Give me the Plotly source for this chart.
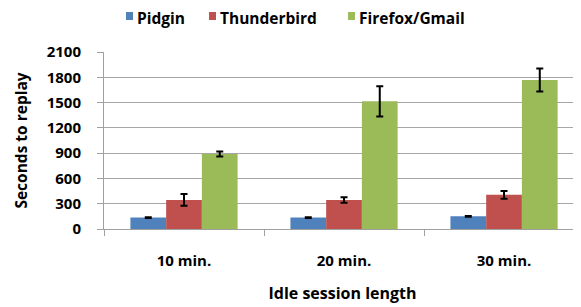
import plotly.graph_objects as go

categories = ["10 min.", "20 min.", "30 min."]
pidgin = [135, 135, 150]
pidgin_err = [4, 4, 4]
thunderbird = [345, 345, 405]
thunderbird_err = [70, 33, 45]
firefox = [890, 1515, 1768]
firefox_err = [30, 180, 136]
y_ticks = [0, 300, 600, 900, 1200, 1500, 1800, 2100]
series_names = ["Pidgin", "Thunderbird", "Firefox/Gmail"]
colors = ["#4F81BD", "#C0504D", "#9BBB59"]

FONT = "Open Sans"
W, H = 573, 299
ML, MT, MB = 96, 44, 78
PW = W - ML
PH = H - MT - MB

fig = go.Figure()
for name, vals, errs, color in zip(series_names, [pidgin, thunderbird, firefox],
                                   [pidgin_err, thunderbird_err, firefox_err], colors):
    fig.add_trace(go.Bar(
        x=categories, y=vals, name=name, marker=dict(color=color, line=dict(width=0)),
        error_y=dict(type="data", array=errs, color="black", thickness=2, width=3.5),
        showlegend=False,
    ))

# manual legend (figure pixel positions -> paper coords)
def px(x):
    return (x - ML) / PW

def py(y):
    return 1 + (MT - y) / PH

legend_sq_x = [118, 201, 340]
legend_cy = 8
for name, color, sx in zip(series_names, colors, legend_sq_x):
    fig.add_shape(type="rect", xref="paper", yref="paper",
                  x0=px(sx), x1=px(sx + 7), y0=py(legend_cy + 4), y1=py(legend_cy - 4),
                  fillcolor=color, line=dict(width=0))
    fig.add_annotation(text=name, xref="paper", yref="paper", x=px(sx + 10), y=py(legend_cy + 1.5),
                       xanchor="left", yanchor="middle", showarrow=False, borderpad=0,
                       font=dict(family=FONT, size=15.5, weight="bold", color="black"))

fig.update_layout(
    width=W, height=H,
    margin=dict(l=ML, r=0, t=MT, b=MB, autoexpand=False),
    paper_bgcolor="white", plot_bgcolor="white",
    barmode="group", bargap=0.33, bargroupgap=0,
    font=dict(family=FONT, size=15, color="black", weight="bold"),
    showlegend=False,
)
fig.update_xaxes(
    range=[-0.5, 2.481], showline=True, linecolor="#A0A0A0", linewidth=1,
    ticks="outside", tickson="boundaries", ticklen=6, tickcolor="#A0A0A0",
    ticklabelstandoff=18,
    tickfont=dict(family=FONT, size=15, weight="bold"), automargin=False,
    title=dict(text="Idle session length", font=dict(family=FONT, size=16, weight="bold"), standoff=18),
    showgrid=False,
)
fig.update_yaxes(
    range=[0, 2100], tickvals=y_ticks, showline=True, linecolor="#A0A0A0", linewidth=1,
    ticks="outside", ticklen=6, tickcolor="#A0A0A0", ticklabelstandoff=13,
    showgrid=True, gridcolor="#A6A6A6", gridwidth=1, zeroline=False, automargin=False,
    tickfont=dict(family=FONT, size=15, weight="bold"),
    title=dict(text="Seconds to replay", font=dict(family=FONT, size=15.5, weight="bold"), standoff=15),
)
fig.write_html("out.html")
